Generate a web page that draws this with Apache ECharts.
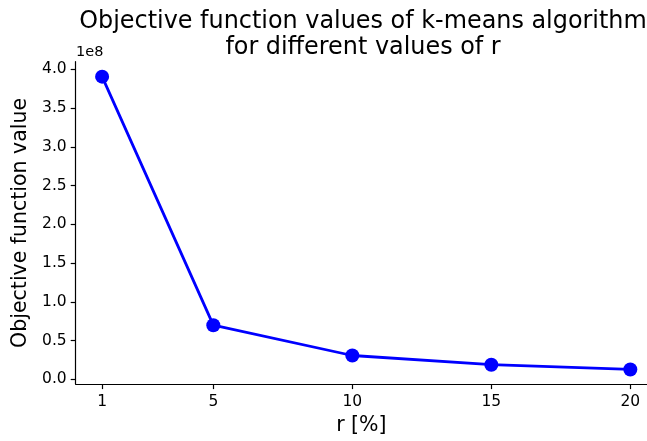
<!DOCTYPE html>
<html>
<head>
<meta charset="utf-8">
<script src="https://cdn.jsdelivr.net/npm/echarts@6/dist/echarts.min.js"></script>
<style>html,body{margin:0;padding:0;background:#fff}#c{width:647px;height:441px}</style>
</head>
<body>
<div id="c"></div>
<script>
var rValues = [1, 5, 10, 15, 20];
var objValues = [390500000, 69900000, 30800000, 18900000, 12800000];
var xTicks = [1, 5, 10, 15, 20];
var yTicks = [0, 50000000, 100000000, 150000000, 200000000, 250000000, 300000000, 350000000, 400000000];

var FONT = 'DejaVu Sans';
var chart = echarts.init(document.getElementById('c'), null, {renderer: 'canvas'});
chart.setOption({
  animation: false,
  backgroundColor: '#fff',
  title: {
    text: 'Objective function values of k-means algorithm\nfor different values of r',
    left: 358, top: 4, textAlign: 'center',
    textStyle: {fontFamily: FONT, fontSize: 23.9, fontWeight: 'normal', color: '#000', lineHeight: 26}
  },
  graphic: [{
    type: 'text', left: 76, top: 45,
    style: {text: '1e8', font: '14.5px "DejaVu Sans"', fill: '#000'}
  }],
  grid: {left: 75.7, right: 0, top: 61.7, bottom: 56, containLabel: false},
  xAxis: {
    type: 'value', min: 0.05, max: 20.6,
    name: 'r [%]', nameLocation: 'middle', nameGap: 28,
    nameTextStyle: {fontFamily: FONT, fontSize: 20.5, color: '#000'},
    axisLine: {show: true, onZero: false, lineStyle: {color: '#000', width: 1.2}},
    axisTick: {show: true, length: 5, customValues: xTicks, lineStyle: {color: '#000', width: 1.2}},
    axisLabel: {customValues: xTicks, fontFamily: FONT, fontSize: 15.5, color: '#000', margin: 10},
    splitLine: {show: false}
  },
  yAxis: {
    type: 'value', min: -6100000, max: 409800000,
    name: 'Objective function value', nameLocation: 'middle', nameGap: 40, nameRotate: 90,
    nameTextStyle: {fontFamily: FONT, fontSize: 20.5, color: '#000'},
    axisLine: {show: true, onZero: false, lineStyle: {color: '#000', width: 1.2}},
    axisTick: {show: true, length: 5, customValues: yTicks, lineStyle: {color: '#000', width: 1.2}},
    axisLabel: {customValues: yTicks, fontFamily: FONT, fontSize: 15.5, color: '#000', margin: 9,
      formatter: function (v) { return (v / 1e8).toFixed(1); }},
    splitLine: {show: false}
  },
  series: [{
    type: 'line',
    data: rValues.map(function (r, i) { return [r, objValues[i]]; }),
    symbol: 'circle', symbolSize: 14,
    lineStyle: {color: '#0000ff', width: 2.8},
    itemStyle: {color: '#0000ff'},
    clip: false
  }]
});
</script>
</body>
</html>
